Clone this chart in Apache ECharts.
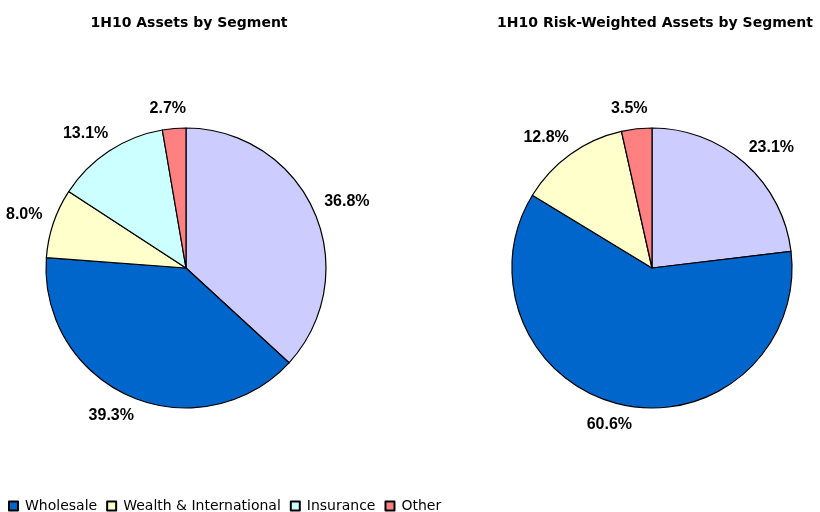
<!DOCTYPE html>
<html>
<head>
<meta charset="utf-8">
<script src="https://cdn.jsdelivr.net/npm/echarts@6/dist/echarts.min.js"></script>
<style>
  html, body { margin: 0; padding: 0; background: #fff; }
  #main { width: 820px; height: 512px; }
</style>
</head>
<body>
<div id="main"></div>
<script>
// segments, in the order they run clockwise from 12 o'clock
const segments = ['Retail', 'Wholesale', 'Wealth & International', 'Insurance', 'Other']
const legendNames = ['Wholesale', 'Wealth & International', 'Insurance', 'Other']
const segColors = ['#CCCCFF', '#0066CC', '#FFFFCC', '#CCFFFF', '#FF8080']

const assetsPct = [36.8, 39.3, 8.0, 13.1, 2.7]
// no Insurance slice on the RWA pie
const rwaSegments = ['Retail', 'Wholesale', 'Wealth & International', 'Other']
const rwaPct = [23.1, 60.6, 12.8, 3.5]

const titles = ['1H10 Assets by Segment', '1H10 Risk-Weighted Assets by Segment']

const R = 140
const centers = [[186, 268], [652, 268]]

const chart = echarts.init(document.getElementById('main'))

function colorOf(name) {
  return segColors[segments.indexOf(name)]
}

function makeData(names, values) {
  return names.map((n, i) => ({ name: n, value: values[i], itemStyle: { color: colorOf(n) } }))
}

// put labels just off the rim, pushed out along the mid angle (like excel's outside end)
function labelPlacer(values, center) {
  const total = values.reduce((a, b) => a + b, 0)
  return function (params) {
    let before = 0
    for (let i = 0; i < params.dataIndex; i++) before += values[i]
    const mid = (before + values[params.dataIndex] / 2) / total * Math.PI * 2
    const dx = Math.sin(mid)
    const dy = -Math.cos(mid)
    const f = t => Math.sign(t) * Math.sqrt(Math.abs(t))
    const w = params.labelRect.width
    const h = params.labelRect.height
    const d = R + 12
    return {
      x: center[0] + dx * d + f(dx) * w / 2,
      y: center[1] + dy * d + f(dy) * h / 2,
      align: 'center',
      verticalAlign: 'middle'
    }
  }
}

function pieSeries(names, values, center) {
  return {
    type: 'pie',
    center: center,
    radius: R,
    startAngle: 90,
    clockwise: true,
    avoidLabelOverlap: false,
    animation: false,
    data: makeData(names, values),
    itemStyle: { borderColor: '#000', borderWidth: 1.2 },
    label: {
      show: true,
      position: 'outside',
      formatter: p => p.value.toFixed(1) + '%',
      fontFamily: 'Liberation Sans, Arial, sans-serif',
      fontWeight: 'bold',
      fontSize: 16,
      color: '#000'
    },
    labelLine: { show: false },
    labelLayout: labelPlacer(values, center),
    emphasis: { disabled: true }
  }
}

const option = {
  backgroundColor: '#fff',
  title: titles.map((t, i) => ({
    text: t,
    left: i === 0 ? 189 : 655,
    top: 16,
    textAlign: 'center',
    padding: 0,
    textStyle: {
      fontFamily: 'DejaVu Sans',
      fontWeight: 'bold',
      fontSize: 14,
      color: '#000'
    }
  })),
  legend: {
    data: legendNames,
    left: 3,
    top: 494,
    icon: 'rect',
    itemWidth: 9,
    itemHeight: 9,
    itemGap: 9,
    selectedMode: false,
    textStyle: {
      fontFamily: 'DejaVu Sans',
      fontSize: 14,
      color: '#000',
      padding: [0, 0, 0, 2]
    }
  },
  series: [
    pieSeries(segments, assetsPct, centers[0]),
    pieSeries(rwaSegments, rwaPct, centers[1])
  ]
}

chart.setOption(option)
</script>
</body>
</html>
